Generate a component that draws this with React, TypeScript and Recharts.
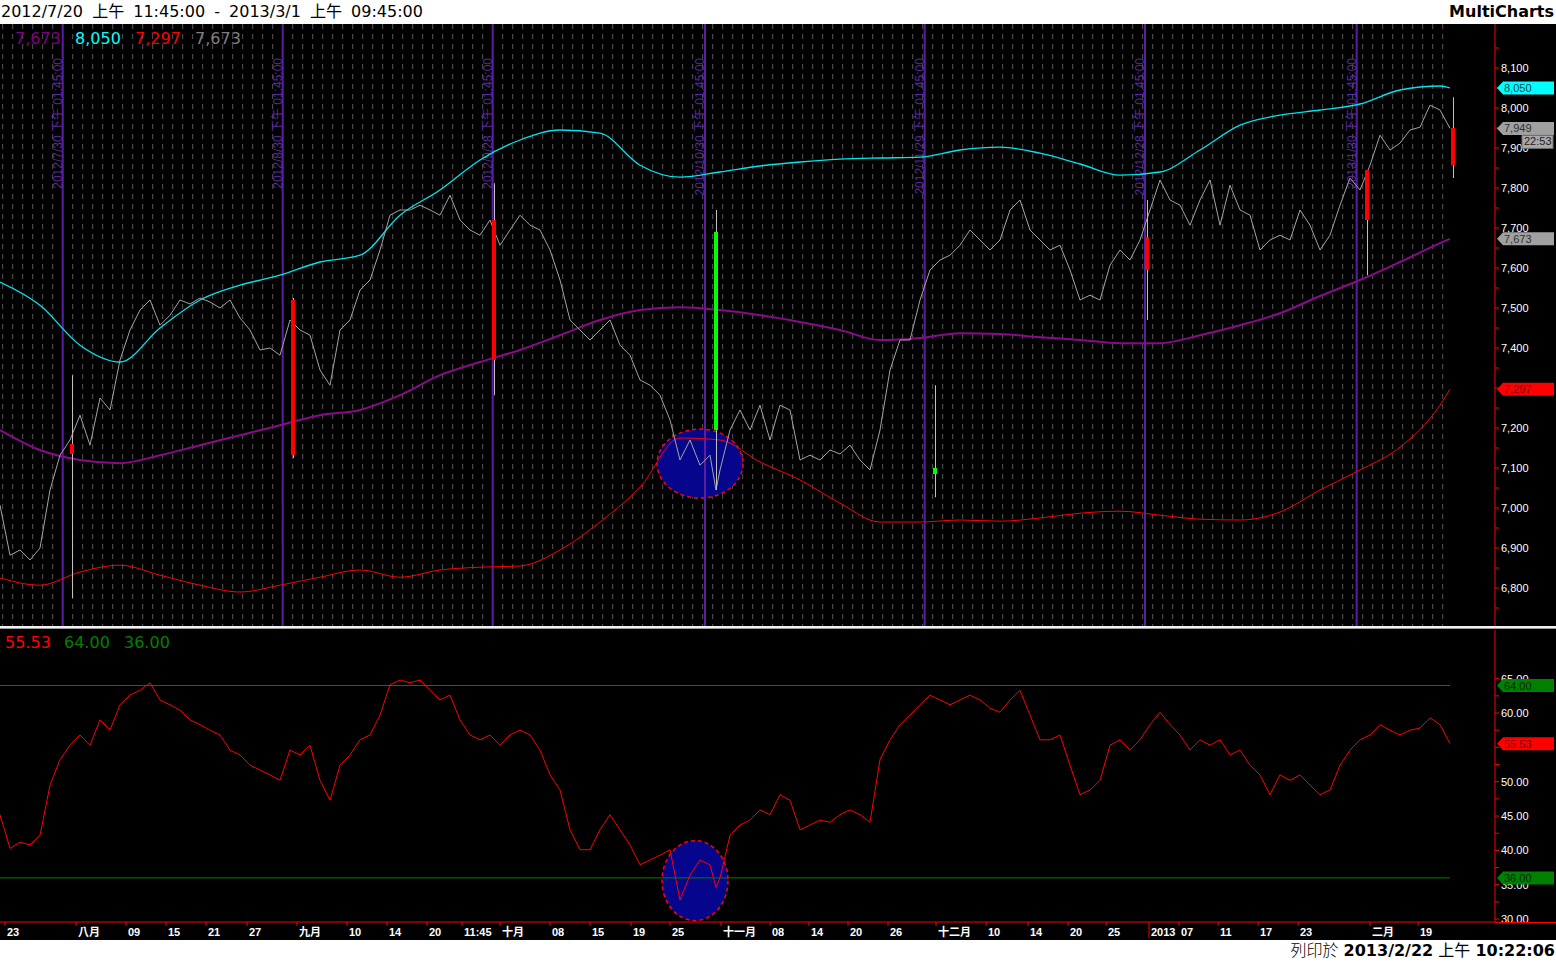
import React from 'react';
import {
  ComposedChart,
  Line,
  Bar,
  Cell,
  XAxis,
  YAxis,
  CartesianGrid,
  ReferenceLine,
  ReferenceDot,
} from 'recharts';

const W = 1556;
const AXIS_W = 61;
const X_DOMAIN: [number, number] = [0, 149.5];
const PRICE_DOMAIN: [number, number] = [6705, 8210];
const RSI_DOMAIN: [number, number] = [29.58, 72.08];

const FONT_UI = "'DejaVu Sans', Verdana, 'Noto Sans CJK TC', sans-serif";
const FONT_AXIS = "'Liberation Sans', Arial, 'Noto Sans CJK TC', sans-serif";

// one close per trading day (day index 0 = 2012/7/20)
const priceClose = [
  7007, 6882, 6895, 6870, 6900, 7045, 7132, 7170, 7232, 7157,
  7275, 7245, 7370, 7445, 7495, 7520, 7457, 7482, 7520, 7510,
  7525, 7515, 7500, 7520, 7475, 7445, 7395, 7400, 7382, 7470,
  7445, 7432, 7345, 7307, 7445, 7470, 7545, 7570, 7645, 7732,
  7745, 7745, 7757, 7745, 7732, 7782, 7720, 7695, 7682, 7720,
  7657, 7695, 7732, 7707, 7695, 7645, 7570, 7470, 7445, 7420,
  7445, 7470, 7407, 7382, 7320, 7307, 7282, 7220, 7120, 7170,
  7107, 7132, 7095, 7195, 7245, 7195, 7257, 7170, 7257, 7245,
  7120, 7132, 7120, 7145, 7135, 7157, 7120, 7095, 7195, 7345,
  7420, 7420, 7520, 7595, 7620, 7632, 7657, 7695, 7670, 7645,
  7670, 7745, 7770, 7695, 7670, 7645, 7657, 7595, 7520, 7532,
  7520, 7607, 7645, 7620, 7670, 7745, 7820, 7770, 7757, 7707,
  7770, 7820, 7707, 7807, 7745, 7732, 7645, 7670, 7682, 7670,
  7745, 7707, 7645, 7682, 7757, 7825, 7795, 7857, 7932, 7895,
  7912, 7945, 7952, 8007, 7995, 7949,
];

const rsiValues = [
  45.2, 40.3, 41.2, 40.8, 42.2, 49.5, 53.2, 55.3, 56.8, 55.3,
  59.0, 57.5, 61.2, 62.6, 63.3, 64.4, 61.9, 61.2, 60.4, 59.0,
  58.3, 57.5, 56.8, 54.6, 53.9, 52.4, 51.7, 51.0, 50.2, 54.6,
  53.9, 55.3, 50.2, 47.3, 52.4, 53.9, 56.1, 56.8, 59.7, 64.1,
  64.8, 64.4, 64.8, 63.3, 61.9, 62.6, 59.0, 56.8, 56.1, 56.8,
  55.3, 56.8, 57.5, 56.8, 54.6, 51.0, 48.8, 43.0, 40.1, 40.1,
  43.0, 45.2, 43.0, 40.8, 37.9, 38.6, 39.3, 40.1, 32.8, 36.4,
  38.6, 37.9, 36.0, 42.2, 43.7, 44.4, 45.9, 45.2, 48.1, 47.3,
  43.0, 43.7, 44.4, 44.1, 45.2, 45.9, 45.2, 44.1, 53.2, 56.1,
  58.3, 59.7, 61.2, 62.6, 61.9, 61.2, 61.9, 62.6, 61.9, 60.7,
  60.1, 61.9, 63.3, 59.7, 56.1, 56.1, 56.8, 52.4, 48.1, 48.8,
  50.2, 55.3, 56.1, 54.6, 56.1, 58.3, 60.1, 58.3, 56.8, 54.6,
  56.1, 55.3, 56.1, 53.9, 54.6, 52.4, 51.0, 48.1, 51.0, 50.2,
  51.0, 49.5, 48.1, 48.8, 52.4, 54.6, 56.1, 56.8, 58.3, 57.5,
  56.8, 57.5, 57.8, 59.3, 58.3, 55.53,
];

// intraday spike inside the circled area
const spikeDays = [71.6];
const spikePrice = [7045];
const spikeRsi = [34.6];

const OVERBOUGHT = 64;
const OVERSOLD = 36;

// envelope lines, sampled every 4 days
const bandDays = [
  0, 4, 8, 12, 16, 20, 24, 28, 32, 36, 40, 44, 48, 52, 56, 60, 64, 68, 72,
  76, 80, 84, 88, 92, 96, 100, 104, 108, 112, 116, 120, 124, 128, 132, 136,
  140, 144, 145,
];
const upperBand = [
  7565, 7507, 7407, 7365, 7450, 7520, 7557, 7582, 7615, 7632, 7732, 7795,
  7870, 7920, 7945, 7937, 7857, 7827, 7840, 7855, 7865, 7872, 7875, 7877,
  7895, 7902, 7887, 7860, 7832, 7840, 7895, 7957, 7982, 7995, 8010, 8045,
  8055, 8050,
];
const midBand = [
  7195, 7145, 7120, 7112, 7132, 7157, 7182, 7207, 7232, 7245, 7282, 7332,
  7365, 7395, 7432, 7470, 7495, 7502, 7495, 7482, 7465, 7445, 7420, 7425,
  7437, 7435, 7427, 7420, 7412, 7412, 7432, 7457, 7487, 7530, 7570, 7615,
  7662, 7673,
];
const lowerBand = [
  6825, 6807, 6840, 6857, 6832, 6807, 6790, 6807, 6827, 6845, 6827, 6845,
  6852, 6855, 6895, 6965, 7052, 7175, 7170, 7115, 7070, 7012, 6965, 6965,
  6970, 6967, 6975, 6987, 6992, 6982, 6972, 6970, 6990, 7045, 7095, 7152,
  7257, 7297,
];

// monthly candles drawn after each expiry line
const candleDays = [7.2, 29.3, 49.4, 71.6, 93.5, 114.7, 136.7, 145.3];
const candleOpen = [7160, 7520, 7720, 7195, 7085, 7677, 7845, 7950];
const candleClose = [7135, 7132, 7370, 7690, 7100, 7595, 7720, 7857];
const candleHigh = [7332, 7525, 7812, 7745, 7307, 7770, 7845, 8027];
const candleLow = [6775, 7125, 7282, 7045, 7027, 7470, 7582, 7825];

const expiryDays = [6.27, 28.27, 49.27, 70.5, 92.47, 114.5, 135.67];
const expiryLabels = [
  '2012/7/30 下午 01:45:00',
  '2012/8/30 下午 01:45:00',
  '2012/9/28 下午 01:45:00',
  '2012/10/30 下午 01:45:00',
  '2012/11/29 下午 01:45:00',
  '2012/12/28 下午 01:45:00',
  '2013/1/30 下午 01:45:00',
];

const xTickDays = [
  0.5, 7.6, 12.6, 16.6, 20.6, 24.7, 29.7, 34.7, 38.7, 42.7, 46.2, 50.0, 55.0,
  59.0, 63.1, 67.0, 72.1, 77.0, 80.9, 84.8, 88.8, 93.6, 98.6, 102.8, 106.8,
  110.6, 114.9, 117.9, 121.8, 125.8, 129.8, 137.0, 141.8,
];
const xTickLabels = [
  '23', '八月', '09', '15', '21', '27', '九月', '10', '14', '20', '11:45', '十月', '08',
  '15', '19', '25', '十一月', '08', '14', '20', '26', '十二月', '10', '14', '20',
  '25', '2013', '07', '11', '17', '23', '二月', '19',
];

const priceTicks = [
  6750, 6800, 6850, 6900, 6950, 7000, 7050, 7100, 7150, 7200, 7250, 7300,
  7350, 7400, 7450, 7500, 7550, 7600, 7650, 7700, 7750, 7800, 7850, 7900,
  7950, 8000, 8050, 8100, 8150,
];
const rsiTicks = [30, 32.5, 35, 37.5, 40, 42.5, 45, 47.5, 50, 52.5, 55, 57.5, 60, 62.5, 65];
// labels sitting fully under a value flag
const hiddenPriceLabels = [7300];
const hiddenRsiLabels = [55];

// daily grid lines
const gridDays = Array.from({ length: 145 }, (_, k) => k + 0.27);

const rows: any[] = priceClose.map((p, i) => ({
  u: i,
  price: p,
  rsi: rsiValues[i],
  ob: OVERBOUGHT,
  os: OVERSOLD,
}));
bandDays.forEach((d, k) => {
  rows[d].upper = upperBand[k];
  rows[d].mid = midBand[k];
  rows[d].lower = lowerBand[k];
});
spikeDays.forEach((d, k) => {
  rows.push({ u: d, price: spikePrice[k], rsi: spikeRsi[k], ob: OVERBOUGHT, os: OVERSOLD });
});
rows.sort((a, b) => a.u - b.u);

const candles = candleDays.map((u, k) => ({
  u,
  open: candleOpen[k],
  close: candleClose[k],
  high: candleHigh[k],
  low: candleLow[k],
}));

const PriceTick = (props: any) => {
  const { x, y, payload } = props;
  const v = payload.value;
  return (
    <g>
      <line x1={x} y1={y} x2={x + 4} y2={y} stroke="#ff0000" />
      {v % 100 === 0 && !hiddenPriceLabels.includes(v) && (
        <text x={x + 6} y={y + 4} fill="#ffffff" fontSize={11} fontFamily={FONT_AXIS}>
          {v.toLocaleString('en-US')}
        </text>
      )}
    </g>
  );
};

const RsiTick = (props: any) => {
  const { x, y, payload } = props;
  const v = payload.value;
  return (
    <g>
      <line x1={x} y1={y} x2={x + 4} y2={y} stroke="#ff0000" />
      {v % 5 === 0 && !hiddenRsiLabels.includes(v) && (
        <text x={x + 6} y={y + 4} fill="#ffffff" fontSize={11} fontFamily={FONT_AXIS}>
          {v.toFixed(2)}
        </text>
      )}
    </g>
  );
};

const XTick = (props: any) => {
  const { x, y, payload } = props;
  const label = xTickLabels[xTickDays.indexOf(payload.value)];
  const year = label === '2013';
  return (
    <g>
      <line x1={x} y1={y} x2={x} y2={y + (year ? 16 : 4)} stroke="#ff0000" />
      <text x={x + 2} y={y + 14} fill="#ffffff" fontSize={11} fontWeight="bold" fontFamily={FONT_AXIS}>
        {label}
      </text>
    </g>
  );
};

const badge = (text: string, fill: string, color: string, note?: string) => (props: any) => {
  const vb = props.viewBox;
  const x = vb.x + vb.width + 2;
  const y = vb.y;
  return (
    <g>
      <polygon
        points={`${x},${y} ${x + 6},${y - 6.5} ${W - 2},${y - 6.5} ${W - 2},${y + 6.5} ${x + 6},${y + 6.5}`}
        fill={fill}
      />
      <text x={x + 7} y={y + 4} fontSize={11} fill={color} fontFamily={FONT_AXIS}>
        {text}
      </text>
      {note && (
        <g>
          <rect x={1522} y={y + 7} width={31} height={13} fill="#a8a8a8" stroke="#707070" />
          <text x={1524} y={y + 17} fontSize={11} fill="#202020" fontFamily={FONT_AXIS}>
            {note}
          </text>
        </g>
      )}
    </g>
  );
};

const expiryLabel = (text: string) => (props: any) => {
  const vb = props.viewBox;
  const x = vb.x - 1;
  const y = 34;
  return (
    <text
      x={x}
      y={y}
      transform={`rotate(-90 ${x} ${y})`}
      textAnchor="end"
      fill="#5a2a9e"
      fontSize={12}
      fontFamily={FONT_AXIS}
    >
      {text}
    </text>
  );
};

const blob = (rx: number, ry: number) => (props: any) => (
  <ellipse
    cx={props.cx}
    cy={props.cy}
    rx={rx}
    ry={ry}
    fill="#06068c"
    stroke="#ff0000"
    strokeWidth={1.5}
    strokeDasharray="4 3"
  />
);

const legend = (text: string, color: string, left: number, top: number) => (
  <span
    style={{
      position: 'absolute',
      left,
      top,
      color,
      fontSize: 16,
      fontFamily: FONT_UI,
      lineHeight: '20px',
      whiteSpace: 'nowrap',
    }}
  >
    {text}
  </span>
);

export default function App() {
  return (
    <div
      style={{
        position: 'absolute',
        left: 0,
        top: 0,
        width: W,
        height: 962,
        background: '#000000',
        overflow: 'hidden',
        fontFamily: FONT_UI,
      }}
    >
      {/* title bar */}
      <div style={{ position: 'absolute', left: 0, top: 0, width: W, height: 24, background: '#ffffff' }}>
        <span style={{ position: 'absolute', left: 1, top: 1, fontSize: 16, lineHeight: '22px', wordSpacing: 4, color: '#000' }}>
          2012/7/20 上午 11:45:00 - 2013/3/1 上午 09:45:00
        </span>
        <span style={{ position: 'absolute', right: 2, top: 1, fontSize: 16, lineHeight: '22px', fontWeight: 'bold', color: '#000' }}>
          MultiCharts
        </span>
      </div>

      {/* price pane */}
      <div style={{ position: 'absolute', left: 0, top: 24, width: W, height: 602 }}>
        <ComposedChart width={W} height={602} data={rows} margin={{ top: 0, right: 0, bottom: 0, left: 0 }}>
          <CartesianGrid
            horizontal={false}
            vertical
            verticalValues={gridDays}
            stroke="#585858"
            strokeDasharray="5 5"
          />
          <XAxis
            dataKey="u"
            type="number"
            domain={X_DOMAIN}
            ticks={gridDays}
            interval={0}
            minTickGap={0}
            allowDataOverflow
            hide
          />
          <YAxis
            orientation="right"
            width={AXIS_W}
            type="number"
            domain={PRICE_DOMAIN}
            allowDataOverflow
            ticks={priceTicks}
            interval={0}
            tickSize={0}
            tickMargin={0}
            tickLine={false}
            axisLine={{ stroke: '#ff0000' }}
            tick={PriceTick}
          />
          <ReferenceDot x={70} y={7111} shape={blob(43, 34.5)} zIndex={-10} />
          {expiryDays.map((d, k) => (
            <ReferenceLine key={d} x={d} stroke="#5a1e9e" strokeWidth={2} label={expiryLabel(expiryLabels[k])} />
          ))}
          <Line type="monotone" dataKey="upper" stroke="#00e5ee" strokeWidth={1.3} dot={false} connectNulls isAnimationActive={false} />
          <Line type="monotone" dataKey="mid" stroke="#8b0a8b" strokeWidth={2} dot={false} connectNulls isAnimationActive={false} />
          <Line type="monotone" dataKey="lower" stroke="#ff0000" strokeWidth={1} dot={false} connectNulls isAnimationActive={false} />
          <Line type="linear" dataKey="price" stroke="#a4a4a4" strokeWidth={1} dot={false} isAnimationActive={false} />
        </ComposedChart>
      </div>

      {/* candles and value flags, drawn over the price pane */}
      <div style={{ position: 'absolute', left: 0, top: 24, width: W, height: 602, pointerEvents: 'none' }}>
        <ComposedChart width={W} height={602} data={candles} margin={{ top: 0, right: AXIS_W, bottom: 0, left: 0 }}>
          <XAxis xAxisId="wick" dataKey="u" type="number" domain={X_DOMAIN} allowDataOverflow hide />
          <XAxis xAxisId="body" dataKey="u" type="number" domain={X_DOMAIN} allowDataOverflow hide />
          <YAxis type="number" domain={PRICE_DOMAIN} allowDataOverflow hide />
          <Bar
            xAxisId="wick"
            dataKey={(d: any) => [d.low, d.high]}
            barSize={1}
            fill="#c0c0c0"
            isAnimationActive={false}
          />
          <Bar
            xAxisId="body"
            dataKey={(d: any) => [Math.min(d.open, d.close), Math.max(d.open, d.close)]}
            barSize={4}
            isAnimationActive={false}
          >
            {candles.map((c) => (
              <Cell key={c.u} fill={c.close >= c.open ? '#00ff00' : '#ff0000'} />
            ))}
          </Bar>
          <ReferenceLine xAxisId="wick" y={8050} stroke="none" label={badge('8,050', '#00ffff', '#004848')} />
          <ReferenceLine xAxisId="wick" y={7949} stroke="none" label={badge('7,949', '#a0a0a0', '#303030', '22:53')} />
          <ReferenceLine xAxisId="wick" y={7673} stroke="none" label={badge('7,673', '#a0a0a0', '#303030')} />
          <ReferenceLine xAxisId="wick" y={7297} stroke="none" label={badge('7,297', '#ff0000', '#7a0000')} />
        </ComposedChart>
      </div>

      {legend('7,673', '#800080', 15, 29)}
      {legend('8,050', '#00ffff', 75, 29)}
      {legend('7,297', '#ff0000', 135, 29)}
      {legend('7,673', '#808080', 195, 29)}

      {/* pane separator */}
      <div style={{ position: 'absolute', left: 0, top: 626, width: W, height: 2, background: '#f2f2f2' }} />
      <div style={{ position: 'absolute', left: 0, top: 628, width: W, height: 1, background: '#9a9a9a' }} />

      {/* RSI pane */}
      <div style={{ position: 'absolute', left: 0, top: 630, width: W, height: 310 }}>
        <ComposedChart width={W} height={310} data={rows} margin={{ top: 0, right: 0, bottom: 0, left: 0 }}>
          <XAxis
            dataKey="u"
            type="number"
            domain={X_DOMAIN}
            allowDataOverflow
            ticks={xTickDays}
            interval={0}
            height={18}
            tickSize={0}
            tickMargin={0}
            tickLine={false}
            axisLine={{ stroke: '#ff0000' }}
            tick={XTick}
          />
          <YAxis
            orientation="right"
            width={AXIS_W}
            type="number"
            domain={RSI_DOMAIN}
            allowDataOverflow
            ticks={rsiTicks}
            interval={0}
            tickSize={0}
            tickMargin={0}
            tickLine={false}
            axisLine={{ stroke: '#ff0000' }}
            tick={RsiTick}
          />
          <ReferenceDot x={69.5} y={35.6} shape={blob(33, 40)} zIndex={-10} />
          <Line type="linear" dataKey="ob" stroke="#008000" strokeWidth={1} dot={false} isAnimationActive={false} />
          <Line type="linear" dataKey="os" stroke="#008000" strokeWidth={1} dot={false} isAnimationActive={false} />
          <Line type="linear" dataKey="rsi" stroke="#ff0000" strokeWidth={1} dot={false} isAnimationActive={false} />
        </ComposedChart>
      </div>

      {/* RSI value flags */}
      <div style={{ position: 'absolute', left: 0, top: 630, width: W, height: 310, pointerEvents: 'none' }}>
        <ComposedChart width={W} height={310} data={rows} margin={{ top: 0, right: AXIS_W, bottom: 18, left: 0 }}>
          <XAxis dataKey="u" type="number" domain={X_DOMAIN} allowDataOverflow hide />
          <YAxis type="number" domain={RSI_DOMAIN} allowDataOverflow hide />
          <ReferenceLine y={64} stroke="none" label={badge('64.00', '#008000', '#002800')} />
          <ReferenceLine y={55.53} stroke="none" label={badge('55.53', '#ff0000', '#7a0000')} />
          <ReferenceLine y={36} stroke="none" label={badge('36.00', '#008000', '#002800')} />
        </ComposedChart>
      </div>
      <div style={{ position: 'absolute', left: 1495, top: 922, width: 61, height: 1, background: '#ff0000' }} />

      {legend('55.53', '#ff0000', 5, 633)}
      {legend('64.00', '#008000', 64, 633)}
      {legend('36.00', '#008000', 124, 633)}

      {/* footer */}
      <div style={{ position: 'absolute', left: 0, top: 940, width: W, height: 22, background: '#ffffff' }}>
        <span style={{ position: 'absolute', right: 1, top: 0, fontSize: 16, lineHeight: '22px', color: '#000', whiteSpace: 'nowrap' }}>
          <span style={{ fontWeight: 300 }}>列印於 </span>
          <b>2013/2/22</b>
          <span> 上午 </span>
          <b>10:22:06</b>
        </span>
      </div>
    </div>
  );
}
